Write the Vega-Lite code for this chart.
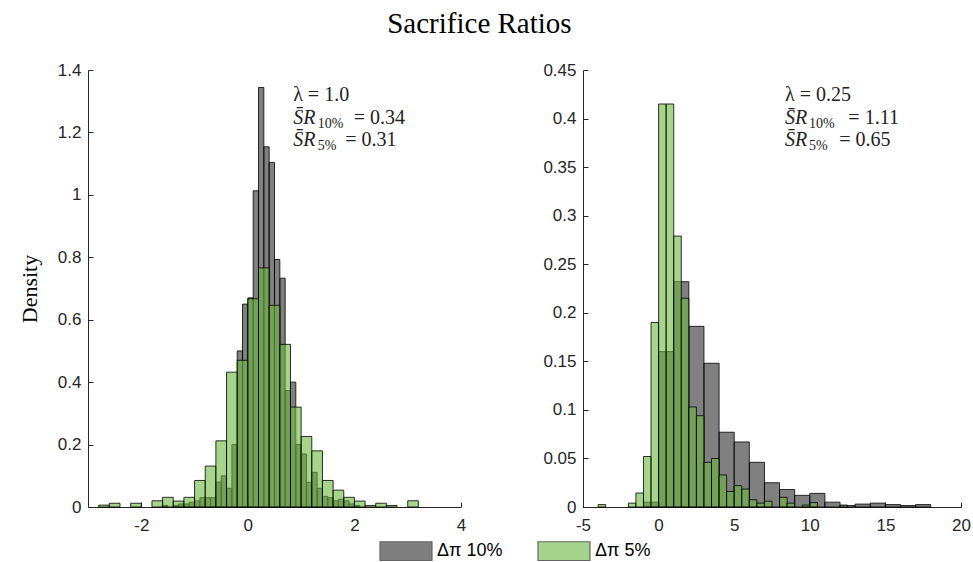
{
  "$schema": "https://vega.github.io/schema/vega-lite/v6.json",
  "background": "white",
  "padding": {"left": 18, "top": 10, "right": 5, "bottom": 0},
  "title": {"text": "Sacrifice Ratios", "font": "Liberation Serif", "fontSize": 29, "fontWeight": "normal", "color": "#000", "anchor": "middle", "offset": 22, "dx": -15},
  "config": {
    "view": {"stroke": null},
    "axis": {"grid": false, "domainColor": "#262626", "tickColor": "#262626", "labelColor": "#262626", "labelFont": "Liberation Sans", "labelFontSize": 17, "tickSize": -5, "labelFlush": false, "labelOverlap": false, "domainWidth": 1, "tickWidth": 1},
    "axisX": {"labelPadding": 15},
    "axisY": {"labelPadding": 12},
    "concat": {"spacing": 76}
  },
  "resolve": {"scale": {"color": "shared"}},
  "datasets": {
    "leftBars": [
      {"series": "Δπ 10%", "x0": -1.6, "x1": -1.5, "density": 0.005},
      {"series": "Δπ 10%", "x0": -1.4, "x1": -1.3, "density": 0.005},
      {"series": "Δπ 10%", "x0": -1.3, "x1": -1.2, "density": 0.01},
      {"series": "Δπ 10%", "x0": -1.2, "x1": -1.1, "density": 0.01},
      {"series": "Δπ 10%", "x0": -1.1, "x1": -1.0, "density": 0.015},
      {"series": "Δπ 10%", "x0": -1.0, "x1": -0.9, "density": 0.02},
      {"series": "Δπ 10%", "x0": -0.9, "x1": -0.8, "density": 0.03},
      {"series": "Δπ 10%", "x0": -0.8, "x1": -0.7, "density": 0.03},
      {"series": "Δπ 10%", "x0": -0.7, "x1": -0.6, "density": 0.03},
      {"series": "Δπ 10%", "x0": -0.6, "x1": -0.5, "density": 0.08},
      {"series": "Δπ 10%", "x0": -0.5, "x1": -0.4, "density": 0.10},
      {"series": "Δπ 10%", "x0": -0.4, "x1": -0.3, "density": 0.06},
      {"series": "Δπ 10%", "x0": -0.3, "x1": -0.2, "density": 0.20},
      {"series": "Δπ 10%", "x0": -0.2, "x1": -0.1, "density": 0.50},
      {"series": "Δπ 10%", "x0": -0.1, "x1": 0.0, "density": 0.65},
      {"series": "Δπ 10%", "x0": 0.0, "x1": 0.1, "density": 0.67},
      {"series": "Δπ 10%", "x0": 0.1, "x1": 0.2, "density": 1.013},
      {"series": "Δπ 10%", "x0": 0.2, "x1": 0.3, "density": 1.344},
      {"series": "Δπ 10%", "x0": 0.3, "x1": 0.4, "density": 1.154},
      {"series": "Δπ 10%", "x0": 0.4, "x1": 0.5, "density": 1.104},
      {"series": "Δπ 10%", "x0": 0.5, "x1": 0.6, "density": 0.793},
      {"series": "Δπ 10%", "x0": 0.6, "x1": 0.7, "density": 0.733},
      {"series": "Δπ 10%", "x0": 0.7, "x1": 0.8, "density": 0.373},
      {"series": "Δπ 10%", "x0": 0.8, "x1": 0.9, "density": 0.40},
      {"series": "Δπ 10%", "x0": 0.9, "x1": 1.0, "density": 0.20},
      {"series": "Δπ 10%", "x0": 1.0, "x1": 1.1, "density": 0.17},
      {"series": "Δπ 10%", "x0": 1.1, "x1": 1.2, "density": 0.079},
      {"series": "Δπ 10%", "x0": 1.2, "x1": 1.3, "density": 0.111},
      {"series": "Δπ 10%", "x0": 1.3, "x1": 1.4, "density": 0.06},
      {"series": "Δπ 10%", "x0": 1.4, "x1": 1.5, "density": 0.034},
      {"series": "Δπ 10%", "x0": 1.5, "x1": 1.6, "density": 0.03},
      {"series": "Δπ 10%", "x0": 1.6, "x1": 1.7, "density": 0.02},
      {"series": "Δπ 10%", "x0": 1.7, "x1": 1.8, "density": 0.025},
      {"series": "Δπ 10%", "x0": 1.8, "x1": 1.9, "density": 0.02},
      {"series": "Δπ 10%", "x0": 1.9, "x1": 2.0, "density": 0.01},
      {"series": "Δπ 10%", "x0": 2.0, "x1": 2.1, "density": 0.005},
      {"series": "Δπ 5%", "x0": -2.8, "x1": -2.6, "density": 0.006},
      {"series": "Δπ 5%", "x0": -2.6, "x1": -2.4, "density": 0.012},
      {"series": "Δπ 5%", "x0": -2.2, "x1": -2.0, "density": 0.012},
      {"series": "Δπ 5%", "x0": -1.8, "x1": -1.6, "density": 0.02},
      {"series": "Δπ 5%", "x0": -1.6, "x1": -1.4, "density": 0.031},
      {"series": "Δπ 5%", "x0": -1.4, "x1": -1.2, "density": 0.019},
      {"series": "Δπ 5%", "x0": -1.2, "x1": -1.0, "density": 0.031},
      {"series": "Δπ 5%", "x0": -1.0, "x1": -0.8, "density": 0.085},
      {"series": "Δπ 5%", "x0": -0.8, "x1": -0.6, "density": 0.131},
      {"series": "Δπ 5%", "x0": -0.6, "x1": -0.4, "density": 0.212},
      {"series": "Δπ 5%", "x0": -0.4, "x1": -0.2, "density": 0.432},
      {"series": "Δπ 5%", "x0": -0.2, "x1": 0.0, "density": 0.47},
      {"series": "Δπ 5%", "x0": 0.0, "x1": 0.2, "density": 0.667},
      {"series": "Δπ 5%", "x0": 0.2, "x1": 0.4, "density": 0.766},
      {"series": "Δπ 5%", "x0": 0.4, "x1": 0.6, "density": 0.646},
      {"series": "Δπ 5%", "x0": 0.6, "x1": 0.8, "density": 0.521},
      {"series": "Δπ 5%", "x0": 0.8, "x1": 1.0, "density": 0.32},
      {"series": "Δπ 5%", "x0": 1.0, "x1": 1.2, "density": 0.226},
      {"series": "Δπ 5%", "x0": 1.2, "x1": 1.4, "density": 0.18},
      {"series": "Δπ 5%", "x0": 1.4, "x1": 1.6, "density": 0.085},
      {"series": "Δπ 5%", "x0": 1.6, "x1": 1.8, "density": 0.054},
      {"series": "Δπ 5%", "x0": 1.8, "x1": 2.0, "density": 0.031},
      {"series": "Δπ 5%", "x0": 2.0, "x1": 2.2, "density": 0.019},
      {"series": "Δπ 5%", "x0": 2.2, "x1": 2.4, "density": 0.005},
      {"series": "Δπ 5%", "x0": 2.4, "x1": 2.6, "density": 0.012},
      {"series": "Δπ 5%", "x0": 2.6, "x1": 2.8, "density": 0.005},
      {"series": "Δπ 5%", "x0": 3.0, "x1": 3.2, "density": 0.02}
    ],
    "rightBars": [
      {"series": "Δπ 10%", "x0": -1, "x1": 0, "density": 0.005},
      {"series": "Δπ 10%", "x0": 0, "x1": 1, "density": 0.16},
      {"series": "Δπ 10%", "x0": 1, "x1": 2, "density": 0.232},
      {"series": "Δπ 10%", "x0": 2, "x1": 3, "density": 0.186},
      {"series": "Δπ 10%", "x0": 3, "x1": 4, "density": 0.148},
      {"series": "Δπ 10%", "x0": 4, "x1": 5, "density": 0.077},
      {"series": "Δπ 10%", "x0": 5, "x1": 6, "density": 0.067},
      {"series": "Δπ 10%", "x0": 6, "x1": 7, "density": 0.046},
      {"series": "Δπ 10%", "x0": 7, "x1": 8, "density": 0.025},
      {"series": "Δπ 10%", "x0": 8, "x1": 9, "density": 0.018},
      {"series": "Δπ 10%", "x0": 9, "x1": 10, "density": 0.012},
      {"series": "Δπ 10%", "x0": 10, "x1": 11, "density": 0.014},
      {"series": "Δπ 10%", "x0": 11, "x1": 12, "density": 0.005},
      {"series": "Δπ 10%", "x0": 12, "x1": 13, "density": 0.0015},
      {"series": "Δπ 10%", "x0": 13, "x1": 14, "density": 0.003},
      {"series": "Δπ 10%", "x0": 14, "x1": 15, "density": 0.004},
      {"series": "Δπ 10%", "x0": 15, "x1": 16, "density": 0.0025},
      {"series": "Δπ 10%", "x0": 16, "x1": 17, "density": 0.0015},
      {"series": "Δπ 10%", "x0": 17, "x1": 18, "density": 0.0025},
      {"series": "Δπ 5%", "x0": -4, "x1": -3.5, "density": 0.0025},
      {"series": "Δπ 5%", "x0": -2, "x1": -1.5, "density": 0.004},
      {"series": "Δπ 5%", "x0": -1.5, "x1": -1, "density": 0.0144},
      {"series": "Δπ 5%", "x0": -1, "x1": -0.5, "density": 0.052},
      {"series": "Δπ 5%", "x0": -0.5, "x1": 0, "density": 0.19},
      {"series": "Δπ 5%", "x0": 0, "x1": 0.5, "density": 0.415},
      {"series": "Δπ 5%", "x0": 0.5, "x1": 1, "density": 0.415},
      {"series": "Δπ 5%", "x0": 1, "x1": 1.5, "density": 0.279},
      {"series": "Δπ 5%", "x0": 1.5, "x1": 2, "density": 0.215},
      {"series": "Δπ 5%", "x0": 2, "x1": 2.5, "density": 0.103},
      {"series": "Δπ 5%", "x0": 2.5, "x1": 3, "density": 0.094},
      {"series": "Δπ 5%", "x0": 3, "x1": 3.5, "density": 0.046},
      {"series": "Δπ 5%", "x0": 3.5, "x1": 4, "density": 0.05},
      {"series": "Δπ 5%", "x0": 4, "x1": 4.5, "density": 0.033},
      {"series": "Δπ 5%", "x0": 4.5, "x1": 5, "density": 0.016},
      {"series": "Δπ 5%", "x0": 5, "x1": 5.5, "density": 0.022},
      {"series": "Δπ 5%", "x0": 5.5, "x1": 6, "density": 0.0185},
      {"series": "Δπ 5%", "x0": 6, "x1": 6.5, "density": 0.0075},
      {"series": "Δπ 5%", "x0": 6.5, "x1": 7, "density": 0.004},
      {"series": "Δπ 5%", "x0": 7, "x1": 7.5, "density": 0.006},
      {"series": "Δπ 5%", "x0": 8, "x1": 8.5, "density": 0.01},
      {"series": "Δπ 5%", "x0": 8.5, "x1": 9, "density": 0.004},
      {"series": "Δπ 5%", "x0": 9.5, "x1": 10, "density": 0.002},
      {"series": "Δπ 5%", "x0": 10, "x1": 10.5, "density": 0.0045},
      {"series": "Δπ 5%", "x0": 12, "x1": 12.5, "density": 0.002}
    ],
    "leftNotes": [
      {"kind": "main", "x": 0.85, "y": 1.302, "txt": "λ = 1.0"},
      {"kind": "ital", "x": 0.85, "y": 1.228, "txt": "S̄R"},
      {"kind": "sub", "x": 1.31, "y": 1.228, "txt": "10%"},
      {"kind": "main", "x": 1.989, "y": 1.228, "txt": "= 0.34"},
      {"kind": "ital", "x": 0.85, "y": 1.158, "txt": "S̄R"},
      {"kind": "sub", "x": 1.31, "y": 1.158, "txt": "5%"},
      {"kind": "main", "x": 1.826, "y": 1.158, "txt": "= 0.31"}
    ],
    "rightNotes": [
      {"kind": "main", "x": 8.36, "y": 0.4184, "txt": "λ = 0.25"},
      {"kind": "ital", "x": 8.36, "y": 0.3944, "txt": "S̄R"},
      {"kind": "sub", "x": 9.95, "y": 0.3944, "txt": "10%"},
      {"kind": "main", "x": 12.55, "y": 0.3944, "txt": "= 1.11"},
      {"kind": "ital", "x": 8.36, "y": 0.3721, "txt": "S̄R"},
      {"kind": "sub", "x": 9.95, "y": 0.3721, "txt": "5%"},
      {"kind": "main", "x": 11.95, "y": 0.3721, "txt": "= 0.65"}
    ]
  },
  "hconcat": [
    {
      "width": 373,
      "height": 437,
      "layer": [
        {
          "data": {"name": "leftBars"},
          "mark": {"type": "rect", "fillOpacity": 0.6, "stroke": "#000", "strokeOpacity": 0.8, "strokeWidth": 1},
          "encoding": {
            "x": {"field": "x0", "type": "quantitative", "scale": {"domain": [-3, 4], "nice": false, "zero": false}, "axis": {"values": [-2, 0, 2, 4], "labelExpr": "'' + datum.value", "title": null}},
            "x2": {"field": "x1"},
            "y": {"field": "density", "type": "quantitative", "stack": null, "scale": {"domain": [0, 1.4], "nice": false}, "axis": {"values": [0, 0.2, 0.4, 0.6, 0.8, 1, 1.2, 1.4], "format": ".1~f", "title": "Density", "titleFont": "Liberation Serif", "titleFontSize": 22, "titleFontWeight": "normal", "titleColor": "#000", "titlePadding": 16}},
            "y2": {"datum": 0},
            "color": {"field": "series", "type": "nominal", "scale": {"domain": ["Δπ 10%", "Δπ 5%"], "range": ["#2b2b2b", "#6bb73c"]},
              "legend": {"orient": "none", "legendX": 291, "legendY": 454, "direction": "horizontal", "title": null, "symbolType": "M-1,-0.36H1V0.36H-1Z", "symbolSize": 2704, "symbolOpacity": 0.6, "symbolStrokeColor": "#000", "symbolStrokeWidth": 1.2, "labelFont": "Liberation Sans", "labelFontSize": 18, "labelColor": "#000", "labelOffset": 4, "columnPadding": 32}}
          }
        },
        {
          "data": {"name": "leftNotes"},
          "transform": [{"filter": "datum.kind == 'main'"}],
          "mark": {"type": "text", "align": "left", "baseline": "alphabetic", "font": "Liberation Serif", "fontSize": 20, "color": "#222"},
          "encoding": {"x": {"field": "x", "type": "quantitative"}, "y": {"field": "y", "type": "quantitative"}, "text": {"field": "txt"}}
        },
        {
          "data": {"name": "leftNotes"},
          "transform": [{"filter": "datum.kind == 'ital'"}],
          "mark": {"type": "text", "align": "left", "baseline": "alphabetic", "font": "Liberation Serif", "fontSize": 20, "fontStyle": "italic", "color": "#222"},
          "encoding": {"x": {"field": "x", "type": "quantitative"}, "y": {"field": "y", "type": "quantitative"}, "text": {"field": "txt"}}
        },
        {
          "data": {"name": "leftNotes"},
          "transform": [{"filter": "datum.kind == 'sub'"}],
          "mark": {"type": "text", "align": "left", "baseline": "alphabetic", "font": "Liberation Serif", "fontSize": 14, "dy": 4, "color": "#222"},
          "encoding": {"x": {"field": "x", "type": "quantitative"}, "y": {"field": "y", "type": "quantitative"}, "text": {"field": "txt"}}
        }
      ]
    },
    {
      "width": 378,
      "height": 437,
      "layer": [
        {
          "data": {"name": "rightBars"},
          "mark": {"type": "rect", "fillOpacity": 0.6, "stroke": "#000", "strokeOpacity": 0.8, "strokeWidth": 1},
          "encoding": {
            "x": {"field": "x0", "type": "quantitative", "scale": {"domain": [-5, 20], "nice": false, "zero": false}, "axis": {"values": [-5, 0, 5, 10, 15, 20], "labelExpr": "'' + datum.value", "title": null}},
            "x2": {"field": "x1"},
            "y": {"field": "density", "type": "quantitative", "stack": null, "scale": {"domain": [0, 0.45], "nice": false}, "axis": {"values": [0, 0.05, 0.1, 0.15, 0.2, 0.25, 0.3, 0.35, 0.4, 0.45], "format": ".2~f", "title": null}},
            "y2": {"datum": 0},
            "color": {"field": "series", "type": "nominal", "scale": {"domain": ["Δπ 10%", "Δπ 5%"], "range": ["#2b2b2b", "#6bb73c"]}}
          }
        },
        {
          "data": {"name": "rightNotes"},
          "transform": [{"filter": "datum.kind == 'main'"}],
          "mark": {"type": "text", "align": "left", "baseline": "alphabetic", "font": "Liberation Serif", "fontSize": 20, "color": "#222"},
          "encoding": {"x": {"field": "x", "type": "quantitative"}, "y": {"field": "y", "type": "quantitative"}, "text": {"field": "txt"}}
        },
        {
          "data": {"name": "rightNotes"},
          "transform": [{"filter": "datum.kind == 'ital'"}],
          "mark": {"type": "text", "align": "left", "baseline": "alphabetic", "font": "Liberation Serif", "fontSize": 20, "fontStyle": "italic", "color": "#222"},
          "encoding": {"x": {"field": "x", "type": "quantitative"}, "y": {"field": "y", "type": "quantitative"}, "text": {"field": "txt"}}
        },
        {
          "data": {"name": "rightNotes"},
          "transform": [{"filter": "datum.kind == 'sub'"}],
          "mark": {"type": "text", "align": "left", "baseline": "alphabetic", "font": "Liberation Serif", "fontSize": 14, "dy": 4, "color": "#222"},
          "encoding": {"x": {"field": "x", "type": "quantitative"}, "y": {"field": "y", "type": "quantitative"}, "text": {"field": "txt"}}
        }
      ]
    }
  ]
}
